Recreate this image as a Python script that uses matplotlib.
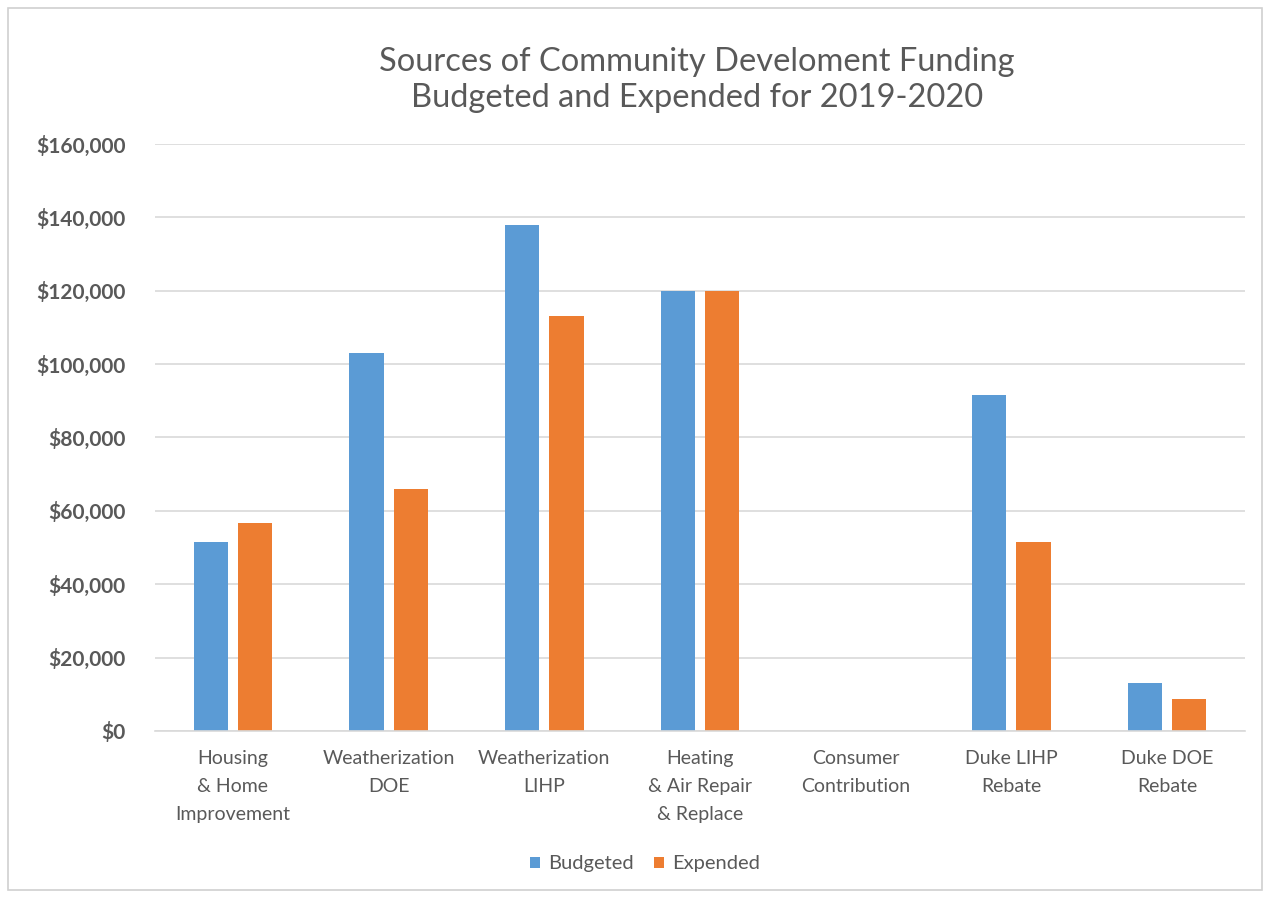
import matplotlib
matplotlib.use("Agg")
import matplotlib.pyplot as plt
import numpy as np
from matplotlib.patches import Rectangle
from matplotlib.ticker import FuncFormatter

categories = ["Housing\n& Home\nImprovement", "Weatherization\nDOE", "Weatherization\nLIHP",
              "Heating\n& Air Repair\n& Replace", "Consumer\nContribution", "Duke LIHP\nRebate",
              "Duke DOE\nRebate"]
budgeted = [51400, 103000, 138000, 120000, 0, 91500, 13100]
expended = [56800, 66000, 113000, 120000, 0, 51500, 8600]
yticks = [0, 20000, 40000, 60000, 80000, 100000, 120000, 140000, 160000]

BLUE = "#5B9BD5"
ORANGE = "#ED7D31"
GRAY = "#595959"
FONT = ["Lato", "DejaVu Sans"]

fig = plt.figure(figsize=(12.70, 8.98), dpi=100)
ax = fig.add_axes([155/1270, 1 - 731/898, 1090/1270, 587/898])

x = np.arange(len(categories))
w = 0.22
gap = 0.064
ax.bar(x - (w + gap) / 2, budgeted, width=w, color=BLUE, label="Budgeted")
ax.bar(x + (w + gap) / 2, expended, width=w, color=ORANGE, label="Expended")

ax.set_xlim(-0.5, len(categories) - 0.5)
ax.set_ylim(0, 160000)
ax.set_yticks(yticks)
ax.yaxis.set_major_formatter(FuncFormatter(lambda v, p: "${:,.0f}".format(v)))
ax.set_xticks(x)
ax.set_xticklabels(categories, fontsize=14, color=GRAY, family=FONT, linespacing=1.76)
for lbl in ax.get_yticklabels():
    lbl.set_fontsize(15)
    lbl.set_color(GRAY)
    lbl.set_family(FONT)
    lbl.set_fontweight("bold")
ax.tick_params(axis="both", length=0)
ax.tick_params(axis="y", pad=21)
ax.tick_params(axis="x", pad=14)
ax.grid(axis="y", color="#D9D9D9", linewidth=1.2)
ax.set_axisbelow(True)
for s in ["top", "right", "left"]:
    ax.spines[s].set_visible(False)
ax.spines["bottom"].set_color("#D9D9D9")
ax.spines["bottom"].set_linewidth(1.2)

fig.text(697/1270, 1 - 80/898, "Sources of Community Develoment Funding\nBudgeted and Expended for 2019-2020",
         ha="center", va="center", fontsize=23.5, color=GRAY, family=FONT, linespacing=1.25)

leg = fig.legend(loc="center", bbox_to_anchor=(645/1270, 1 - 864/898), ncol=2, frameon=False,
                 prop={"family": FONT, "size": 14.5}, handlelength=0.5, handleheight=0.5,
                 columnspacing=1.0, handletextpad=0.4)
for t in leg.get_texts():
    t.set_color(GRAY)

fig.patches.append(Rectangle((8/1270, 8/898), 1254/1270, 882/898, transform=fig.transFigure,
                             fill=False, edgecolor="#D0D0D0", linewidth=1.2))

fig.savefig("out.png", dpi=100, facecolor="white")
